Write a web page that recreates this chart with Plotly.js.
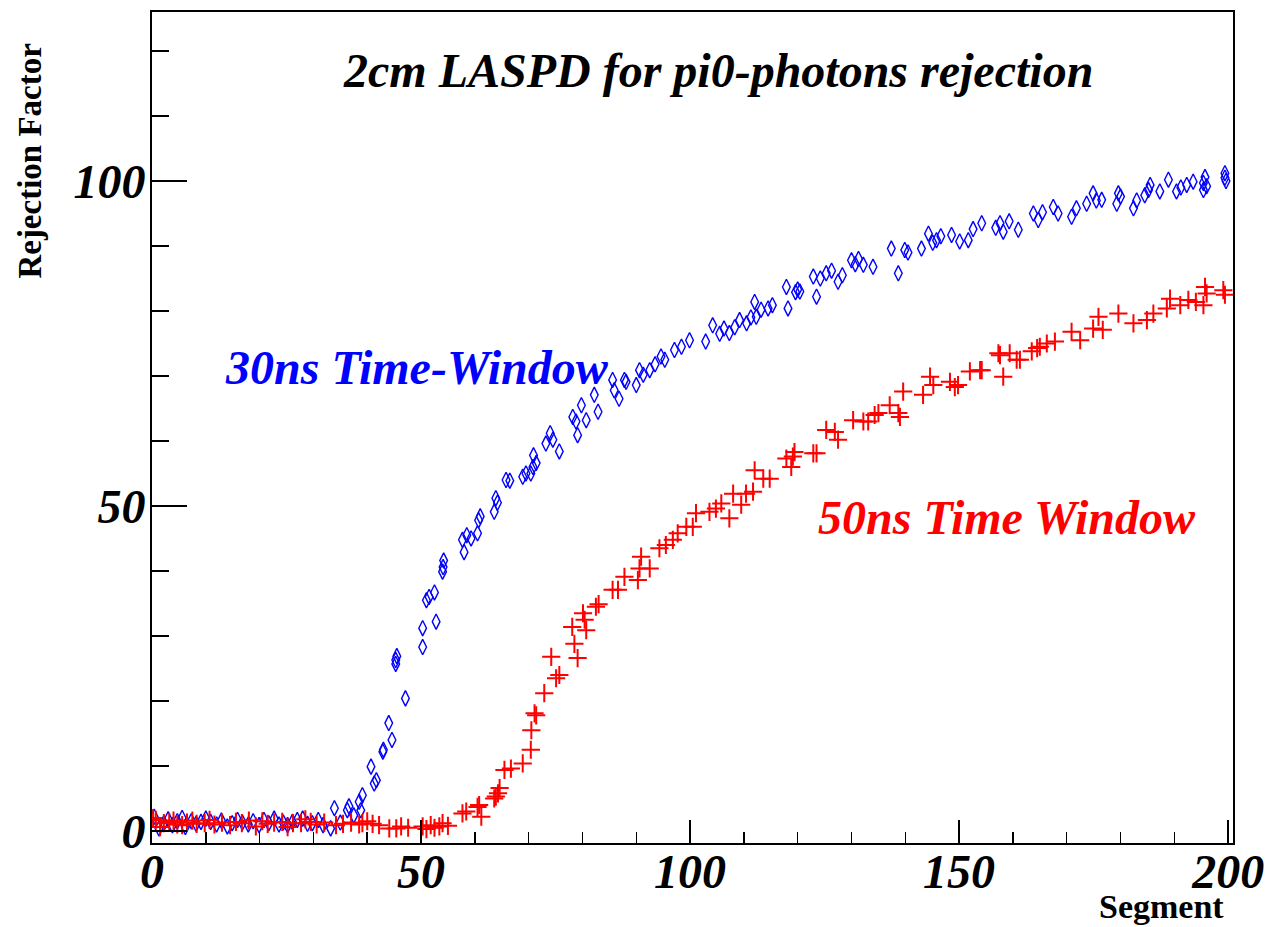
<!DOCTYPE html>
<html>
<head>
<meta charset="utf-8">
<script src="https://cdn.plot.ly/plotly-3.0.1.min.js"></script>
<style>html,body{margin:0;padding:0;background:#fff;}#chart{width:1267px;height:927px;}</style>
</head>
<body>
<div id="chart"></div>
<script>
// 30ns Time-Window (blue diamonds)
var blueX = [0.4,1.3,2.2,3.0,3.8,4.7,5.6,6.2,7.3,8.2,9.1,10.0,10.9,12.0,12.9,14.0,14.9,15.9,16.8,17.9,18.8,19.9,20.8,21.7,22.7,23.6,24.4,25.2,26.1,27.0,28.0,28.9,29.8,30.9,31.8,33.2,33.9,35.0,36.3,36.6,37.5,38.5,38.8,39.1,40.7,41.3,41.7,42.9,43.0,44.0,44.6,45.3,45.5,45.3,47.1,50.3,50.3,51.0,51.5,52.5,52.8,54.0,54.1,54.2,57.7,58.0,58.5,59.3,60.5,60.7,61.0,63.6,63.9,64.2,65.8,66.5,68.9,69.5,70.4,70.8,70.9,71.4,73.2,74.0,74.5,75.7,78.2,78.8,79.1,79.8,80.7,82.2,82.9,85.6,85.9,86.8,87.8,88.1,90.0,90.6,91.3,92.5,93.5,94.6,95.3,97.1,98.4,99.9,102.9,104.2,105.5,106.3,107.3,108.3,109.2,110.5,111.3,112.0,112.3,113.2,114.5,115.3,117.9,118.2,119.6,120.0,120.4,122.9,123.5,124.2,125.3,126.3,127.5,128.3,130.0,130.7,131.3,132.2,134.0,137.4,138.7,139.9,140.5,143.0,144.3,145.1,145.8,146.6,148.6,150.1,151.7,152.6,154.2,156.8,157.6,158.2,159.3,161.0,163.8,164.7,165.5,167.5,168.4,170.9,171.8,173.7,174.9,175.5,176.5,179.3,179.6,180.0,182.4,183.0,184.5,185.2,185.5,187.3,188.9,190.4,191.2,192.3,193.5,195.4,195.7,195.4,196.0,199.4,199.4,199.6];
var blueY = [2.2,0.4,1.2,1.8,0.9,1.5,2.0,0.6,1.5,1.1,1.4,1.9,1.4,1.0,1.6,0.7,1.2,1.7,1.3,1.0,1.5,0.9,1.7,1.2,1.9,1.0,1.3,0.9,1.4,1.7,1.9,1.1,1.2,1.7,0.9,0.4,3.5,1.3,3.2,3.8,2.4,4.5,3.2,5.5,9.9,7.3,7.8,12.2,12.5,16.6,14.0,26.3,26.9,25.7,20.4,28.3,31.2,35.5,36.0,36.7,32.2,39.9,40.6,41.6,44.8,42.9,45.5,45.0,45.8,47.8,48.4,49.1,51.2,50.5,54.0,53.9,54.5,55.0,55.0,56.0,57.8,56.6,59.6,61.2,60.2,58.4,63.7,63.0,60.9,65.5,63.2,67.1,64.5,69.4,67.8,66.5,69.4,69.1,68.6,70.9,70.2,70.9,71.8,73.0,72.5,74.0,74.5,75.5,75.3,77.8,76.5,77.3,76.6,77.5,78.6,78.1,79.0,81.4,79.1,80.2,80.4,80.9,83.7,80.4,82.9,83.3,83.0,85.3,82.2,85.0,85.8,86.2,84.5,85.5,87.8,87.2,88.0,87.1,86.8,89.6,85.8,89.4,89.0,89.6,91.9,90.5,90.9,91.5,91.7,90.7,90.9,92.6,93.5,92.8,93.5,92.2,93.8,92.5,95.0,94.0,95.2,96.0,95.0,94.5,95.8,96.5,98.1,97.0,97.1,96.5,98.1,97.6,95.8,97.0,97.8,98.6,99.4,98.4,100.2,98.4,99.0,99.4,99.9,99.7,100.6,98.6,99.2,101.2,100.5,100.0];

// 50ns Time Window (red crosses)
var redX = [0.2,0.7,1.5,2.2,3.2,4.0,4.7,5.6,6.5,7.5,8.3,9.8,10.7,11.6,13.0,14.5,15.6,16.7,18.0,19.3,20.5,21.5,22.7,24.2,25.2,26.2,27.7,28.5,29.5,30.6,32.0,34.2,35.5,37.0,38.5,39.1,40.0,41.0,42.2,44.1,45.4,46.3,47.6,50.3,51.0,51.8,52.5,53.4,54.0,55.0,57.7,58.4,60.5,60.8,61.2,63.6,63.9,64.6,64.3,65.5,66.7,68.9,70.4,70.5,71.1,71.4,72.9,74.2,75.1,75.7,78.1,78.5,79.1,80.1,80.4,80.7,82.5,83.0,85.6,86.6,87.8,90.3,90.6,90.9,92.5,94.3,95.5,96.8,97.7,99.3,100.5,101.1,103.6,104.8,105.8,107.3,108.0,109.5,110.4,111.7,112.0,113.6,114.8,117.9,118.8,119.4,119.1,122.9,123.5,125.3,126.9,127.5,130.3,132.2,133.1,134.3,135.0,137.1,138.7,139.0,139.6,143.3,144.6,145.2,148.3,149.2,149.8,152.0,153.9,154.2,157.3,157.6,158.2,159.4,160.7,161.3,163.5,164.5,165.0,166.3,167.8,170.9,172.5,174.9,175.9,176.7,179.6,182.4,184.9,186.1,188.6,189.2,191.1,192.6,194.0,195.4,195.7,196.0,199.1,199.4];
var redY = [2.0,1.7,0.6,1.2,1.4,1.6,1.0,0.9,1.3,1.6,1.1,1.2,1.7,1.0,1.3,0.9,1.4,1.2,1.6,0.7,1.5,1.1,1.3,1.4,0.6,1.2,1.2,1.8,1.4,1.0,1.3,0.9,1.1,1.3,1.0,1.2,1.5,1.1,0.9,0.4,0.4,0.7,0.5,0.7,0.3,0.9,0.5,0.7,1.2,0.8,2.7,3.0,3.7,4.0,2.2,5.0,5.3,6.6,5.8,9.4,9.6,10.4,12.5,15.5,18.1,17.8,21.2,26.8,23.5,24.0,31.4,28.8,26.6,33.5,32.5,30.9,34.5,34.9,37.1,37.1,39.1,38.6,40.4,42.2,40.4,43.5,44.0,44.8,45.8,46.8,46.8,48.9,49.1,49.6,50.4,48.1,51.9,50.2,51.9,52.2,55.5,54.2,54.2,57.3,56.0,58.3,57.6,58.1,58.1,61.7,61.4,60.2,63.2,63.0,63.0,64.0,64.3,65.5,64.3,63.7,67.6,67.1,69.9,68.6,69.1,68.3,68.6,70.7,70.9,70.9,73.5,73.2,69.9,73.5,72.5,72.5,73.8,74.3,74.5,75.0,75.3,76.8,75.5,77.3,79.1,77.1,79.6,78.1,78.6,79.6,80.4,81.9,80.9,81.7,81.4,80.9,83.7,82.7,83.2,82.5];

var titleText = "2cm LASPD for pi0-photons rejection";
var blueLabel = "30ns Time-Window";
var redLabel = "50ns Time Window";
var xTitle = "Segment";
var yTitle = "Rejection Factor";

var serif = "Liberation Serif, Times New Roman, serif";
var bi = {family: serif, size: 48, weight: "bold", style: "italic", color: "#000"};

var traces = [
  {x: blueX, y: blueY, type: "scatter", mode: "markers", name: blueLabel,
   marker: {symbol: "diamond-tall-open", size: 11, color: "#0000ff", line: {color: "#0000ff", width: 1.4}}},
  {x: redX, y: redY, type: "scatter", mode: "markers", name: redLabel,
   marker: {symbol: "cross-thin-open", size: 13, color: "#ff0000", line: {color: "#ff0000", width: 2}}}
];

var axisCommon = {
  showgrid: false, zeroline: false, showline: true, linecolor: "#000", linewidth: 2,
  mirror: true, ticks: "inside", tickcolor: "#000", tickwidth: 1.5,
  tickfont: bi, tick0: 0, dtick: 50
};

var layout = {
  width: 1267, height: 927,
  paper_bgcolor: "#fff", plot_bgcolor: "#fff",
  margin: {l: 152, r: 34, t: 12, b: 84},
  showlegend: false,
  xaxis: Object.assign({}, axisCommon, {
    range: [0, 200.9], ticklen: 23, ticklabelstandoff: -15,
    minor: {dtick: 10, tick0: 0, ticks: "inside", ticklen: 11, tickcolor: "#000", tickwidth: 1.5}
  }),
  yaxis: Object.assign({}, axisCommon, {
    range: [-1.85, 126], ticklen: 35, ticklabelstandoff: -5,
    minor: {dtick: 10, tick0: 0, ticks: "inside", ticklen: 17, tickcolor: "#000", tickwidth: 1.5}
  }),
  annotations: [
    {text: titleText, xref: "paper", yref: "paper", x: 0.5236, y: 0.93, showarrow: false,
     xanchor: "center", yanchor: "middle", font: bi},
    {text: blueLabel, xref: "paper", yref: "paper", x: 0.245, y: 0.572, showarrow: false,
     xanchor: "center", yanchor: "middle", font: Object.assign({}, bi, {color: "#0000ff"})},
    {text: redLabel, xref: "paper", yref: "paper", x: 0.791, y: 0.392, showarrow: false,
     xanchor: "center", yanchor: "middle", font: Object.assign({}, bi, {color: "#ff0000"})},
    {text: xTitle, xref: "paper", yref: "paper", x: 0.934, y: -0.0765, showarrow: false,
     xanchor: "center", yanchor: "middle", font: {family: serif, size: 34, weight: "bold", color: "#000"}},
    {text: yTitle, xref: "paper", yref: "paper", x: -0.113, y: 0.821, showarrow: false, textangle: -90,
     xanchor: "center", yanchor: "middle", font: {family: serif, size: 33, weight: "bold", color: "#000"}}
  ]
};

Plotly.newPlot("chart", traces, layout, {displayModeBar: false, staticPlot: true});
</script>
</body>
</html>
